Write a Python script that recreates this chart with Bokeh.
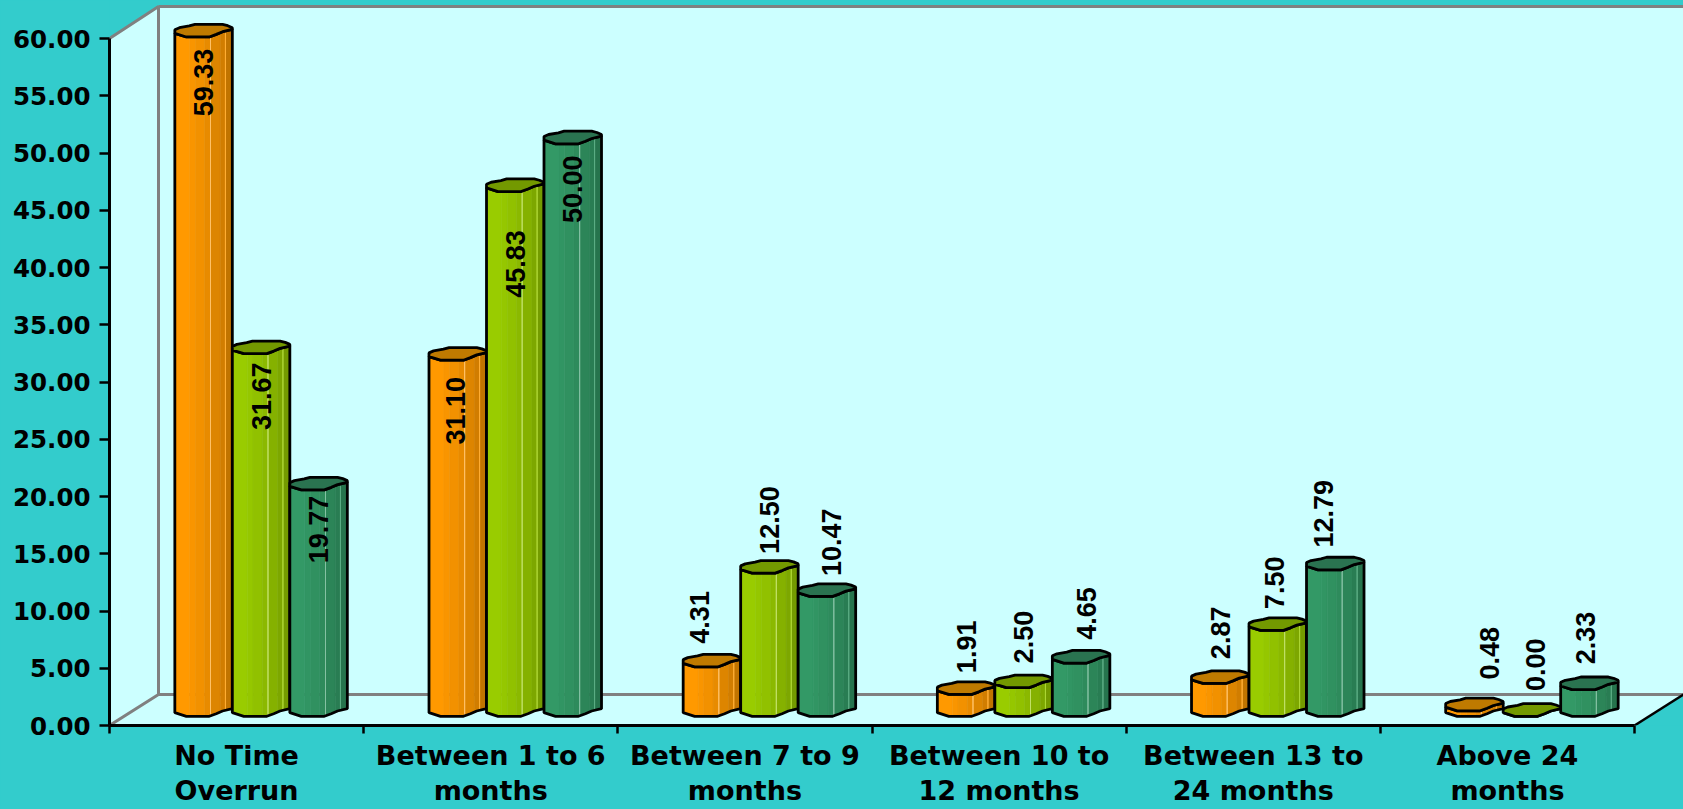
from bokeh.plotting import figure
from bokeh.models import ColumnDataSource, FixedTicker, NumeralTickFormatter, Range1d
from bokeh.core.properties import value
from bokeh.embed import file_html
from bokeh.resources import INLINE
import math

categories = ["No Time\nOverrun", "Between 1 to 6\nmonths", "Between 7 to 9\nmonths",
              "Between 10 to\n12 months", "Between 13 to\n24 months", "Above 24\nmonths"]
series_a = [59.33, 31.10, 4.31, 1.91, 2.87, 0.48]
series_b = [31.67, 45.83, 12.50, 2.50, 7.50, 0.00]
series_c = [19.77, 50.00, 10.47, 4.65, 12.79, 2.33]
y_ticks = list(range(0, 65, 5))

# per-label pixel nudges, same order as the series above: [category][series]
nudge_x = [[0, 0, 0], [-2, 0, 0], [-12, 0, 5], [0, 0, 5], [0, -3, -12], [15, 4, -4]]
nudge_y = [[0, 3, 6], [-5, -27, 0], [-2, -6, -5], [-4, -1, -2], [-1, -4, -3], [6, 0, 0]]

series_colors = [(255, 153, 0), (153, 204, 0), (51, 153, 102)]
cap_colors = ["#BF7A00", "#739900", "#2A7350"]

W, H = 1683, 809
L, B = 109, 84
PX_X = 254.17          # px per category
PX_Y = 11.45           # px per y unit
DEPTH_X, DEPTH_Y = 49 / PX_X, 31 / PX_Y
x_end = (W - L) / PX_X
y_end = (H - B) / PX_Y
wall_top = y_end - 6 / PX_Y

p = figure(width=W, height=H, output_backend="svg", toolbar_location=None,
           x_range=Range1d(0, x_end), y_range=Range1d(0, y_end),
           min_border_left=L, min_border_bottom=B, min_border_top=0, min_border_right=0,
           background_fill_color="#33CCCC", border_fill_color="#33CCCC", outline_line_color=None)
p.grid.visible = False

# walls and floor
p.patch([0, DEPTH_X, DEPTH_X, 0], [60, wall_top, DEPTH_Y, 0], fill_color="#CCFFFF", line_color=None)
p.patch([DEPTH_X, x_end, x_end, DEPTH_X], [DEPTH_Y, DEPTH_Y, wall_top, wall_top], fill_color="#CCFFFF", line_color=None)
p.patch([0, DEPTH_X, x_end, 6], [0, DEPTH_Y, DEPTH_Y, 0], fill_color="#CCFFFF", line_color=None)
p.line([0, DEPTH_X, DEPTH_X], [60, wall_top, DEPTH_Y], line_color="#808080", line_width=3)
p.line([DEPTH_X, x_end], [wall_top, wall_top], line_color="#808080", line_width=3)
p.line([0, DEPTH_X, x_end], [0, DEPTH_Y, DEPTH_Y], line_color="#808080", line_width=3)
p.line([6, x_end], [0, DEPTH_Y], line_color="#000000", line_width=2.5)

# bars
front = [(0, 2.7), (0.2, 6.3), (0.6, 6.3), (0.72, 3.7), (0.83, 1.0), (1, -1.3)]
back = [(1, -3), (0.92, -5), (0.83, -6.3), (0.35, -6.3), (0.25, -4.7), (0.08, -3), (0, -1)]
strips = [(0, .26, 1.0), (.26, .36, .98), (.36, .52, .95), (.52, .62, .91),
          (.62, .79, .87), (.79, .88, .82), (.88, 1, .76)]
BW = 57.5 / PX_X


def front_y(u):
    for (u0, d0), (u1, d1) in zip(front, front[1:]):
        if u0 <= u <= u1:
            return d0 + (d1 - d0) * (u - u0) / (u1 - u0)
    return 0


def shade(rgb, f):
    return "#%02X%02X%02X" % tuple(int(c * f) for c in rgb)


def tint(rgb, t):
    return "#%02X%02X%02X" % tuple(int(c + (255 - c) * t) for c in rgb)


rows = dict(xs=[], ys=[], fill=[], fa=[], line=[], lw=[])


def add(xs, ys, fill, fa, line, lw):
    rows["xs"].append(xs); rows["ys"].append(ys); rows["fill"].append(fill)
    rows["fa"].append(fa); rows["line"].append(line); rows["lw"].append(lw)


labels = dict(x=[], y=[], t=[], align=[], ox=[], oy=[])
for c in range(len(categories)):
    for s, vals in enumerate([series_a, series_b, series_c]):
        v = vals[c]
        x0 = c + 0.5 + DEPTH_X / 2 + (s - 1.5) * BW
        yc = v + DEPTH_Y / 2
        yb = DEPTH_Y / 2
        px = lambda u: x0 + u * BW
        for u0, u1, f in strips:
            knots = [u0] + [u for u, _ in front if u0 < u < u1] + [u1]
            bot = [yb - front_y(u) / PX_Y for u in knots]
            top = [yc - front_y(u) / PX_Y for u in knots]
            col = shade(series_colors[s], f)
            add([px(u) for u in knots] + [px(u) for u in reversed(knots)], bot + top[::-1], col, 1, col, 0.6)
        for u, t in [(0.62, 0.4), (0.88, 0.2)]:
            add([px(u), px(u)], [yb - front_y(u) / PX_Y, yc - front_y(u) / PX_Y], "#000000", 0,
                tint(series_colors[s], t), 1)
        outline_x = [px(u) for u, _ in front] + [px(u) for u, _ in front[::-1]]
        outline_y = [yb - d / PX_Y for _, d in front] + [yc - d / PX_Y for _, d in front[::-1]]
        add(outline_x, outline_y, "#000000", 0, "#000000", 2.8)
        cap_x = [px(u) for u, _ in front] + [px(u) for u, _ in back]
        cap_y = [yc - d / PX_Y for _, d in front] + [yc - d / PX_Y for _, d in back]
        add(cap_x, cap_y, cap_colors[s], 1, "#000000", 2.8)
        inside = v > 15
        labels["x"].append(x0 + BW / 2)
        labels["t"].append("%.2f" % v)
        labels["y"].append(yc)
        labels["ox"].append(nudge_x[c][s])
        if inside:
            labels["align"].append("right")
            labels["oy"].append(18 - nudge_y[c][s])
        else:
            labels["align"].append("left")
            labels["oy"].append(-19 - nudge_y[c][s])

p.patches("xs", "ys", source=ColumnDataSource(rows), fill_color="fill", fill_alpha="fa",
          line_color="line", line_width="lw")

font = value("Liberation Sans")
for al in ["left", "right"]:
    idx = [i for i, a in enumerate(labels["align"]) if a == al]
    src = ColumnDataSource({k: [labels[k][i] for i in idx] for k in ["x", "y", "t", "ox", "oy"]})
    p.text("x", "y", text="t", source=src, angle=math.pi / 2, text_align=al, text_baseline="middle",
           x_offset="ox", y_offset="oy", text_font=font, text_font_style="bold",
           text_font_size="27px", text_color="#000000")

# axes
ax = p.yaxis[0]
ax.ticker = FixedTicker(ticks=y_ticks)
ax.formatter = NumeralTickFormatter(format="0.00")
ax.bounds = (0, 60)
ax.axis_line_color = "#000000"; ax.axis_line_width = 3
ax.major_tick_line_color = "#000000"; ax.major_tick_line_width = 2.5
ax.major_tick_out = 10; ax.major_tick_in = 0; ax.minor_tick_line_color = None
ax.major_label_standoff = 9
ax.major_label_text_font = "DejaVu Sans"; ax.major_label_text_font_style = "bold"
ax.major_label_text_font_size = "24.5px"; ax.major_label_text_color = "#000000"

bx = p.xaxis[0]
bx.ticker = FixedTicker(ticks=[i + 0.5 for i in range(6)], minor_ticks=list(range(7)))
bx.major_label_overrides = {i + 0.5: t for i, t in enumerate(categories)}
bx.bounds = (0, 6)
bx.axis_line_color = "#000000"; bx.axis_line_width = 3
bx.major_tick_line_color = None
bx.major_tick_out = 0; bx.major_tick_in = 0
bx.minor_tick_line_color = "#000000"; bx.minor_tick_line_width = 2.5
bx.minor_tick_out = 8; bx.minor_tick_in = 0
bx.major_label_standoff = 6
bx.major_label_text_font = "DejaVu Sans"; bx.major_label_text_font_style = "bold"
bx.major_label_text_font_size = "27px"; bx.major_label_text_color = "#000000"
bx.major_label_text_line_height = 1.16

html = file_html(p, INLINE)
html = html.replace("</head>", "<style>html,body{margin:0;background:#33CCCC;overflow:hidden}</style></head>")
open("out.html", "w").write(html)
